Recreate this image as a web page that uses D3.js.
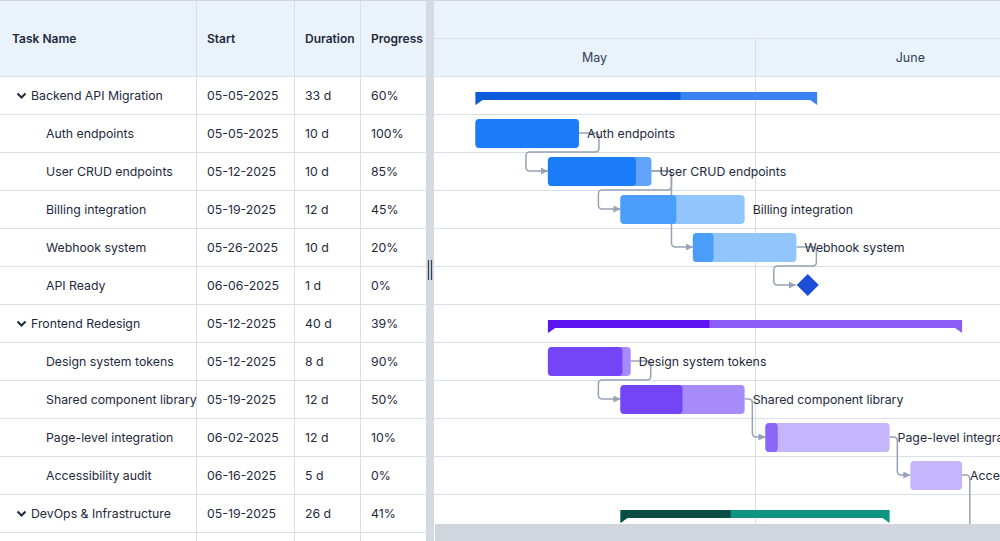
<!DOCTYPE html>
<html lang="en">
<head>
<meta charset="UTF-8">
<title>Project Gantt</title>
<script src="https://d3js.org/d3.v7.min.js"></script>
<style>
  body { margin: 0; background: #fff; font-family: Inter, 'Noto Sans', sans-serif; }
  svg { display: block; }
  .cell { font-size: 12.3px; fill: #1e293b; }
  .head { font-size: 12px; font-weight: 600; fill: #1e293b; }
  .month { font-size: 12.5px; fill: #334155; }
  .bar-label { font-size: 12.3px; fill: #1e293b; }
</style>
</head>
<body>
<svg id="gantt"></svg>
<script>
// ---- data ----
const taskNames = ["Backend API Migration", "Auth endpoints", "User CRUD endpoints", "Billing integration",
  "Webhook system", "API Ready", "Frontend Redesign", "Design system tokens", "Shared component library",
  "Page-level integration", "Accessibility audit", "DevOps & Infrastructure", "Production rollout"];
const taskTypes = ["summary", "task", "task", "task", "task", "milestone", "summary", "task", "task",
  "task", "task", "summary", "task"];
const taskGroups = ["backend", "backend", "backend", "backend", "backend", "backend", "frontend", "frontend",
  "frontend", "frontend", "frontend", "devops", "devops"];
const startDates = ["05-05-2025", "05-05-2025", "05-12-2025", "05-19-2025", "05-26-2025", "06-06-2025",
  "05-12-2025", "05-12-2025", "05-19-2025", "06-02-2025", "06-16-2025", "05-19-2025", "06-23-2025"];
const durations = [33, 10, 10, 12, 10, 1, 40, 8, 12, 12, 5, 26, 4];
const progress = [60, 100, 85, 45, 20, 0, 39, 90, 50, 10, 0, 41, 0];
const dependencies = [[1, 2], [2, 3], [2, 4], [4, 5], [7, 8], [8, 9], [9, 10], [10, 12]];
const months = ["May", "June"];
const monthStarts = ["05-01-2025", "06-01-2025", "07-01-2025"];
const columns = ["Task Name", "Start", "Duration", "Progress"];

// ---- styles ----
const palette = {
  backend:  { sumDark: "#0b5ad9", sumLight: "#3b82f6", progHi: "#1a7cf6", progLo: "#4b9dfb", restHi: "#60a5fa", restLo: "#93c5fd", milestone: "#1d4ed8" },
  frontend: { sumDark: "#5b14f0", sumLight: "#8b5cf6", progHi: "#7345f6", progLo: "#8b66f8", restHi: "#a78bfa", restLo: "#c4b5fd", milestone: "#6d28d9" },
  devops:   { sumDark: "#0a4d45", sumLight: "#0f9484", progHi: "#0f766e", progLo: "#14b8a6", restHi: "#5eead4", restLo: "#99f6e4", milestone: "#0f766e" }
};
const W = 1000, H = 541;
const headH = 76, rowH = 38;
const colX = [0, 196, 294, 360, 426];
const splitX = 426, splitW = 8, chartX = 434;
const gridColor = "#d9dfe7", headBg = "#eaf2fb", connColor = "#97a3b6";

const parse = d3.utcParse("%m-%d-%Y");
const fmt = d3.utcFormat("%m-%d-%Y");
const tasks = taskNames.map((name, i) => {
  const s = parse(startDates[i]);
  return { i, name, type: taskTypes[i], group: taskGroups[i], start: s,
    end: d3.utcDay.offset(s, durations[i]), dur: durations[i], prog: progress[i] };
});

const svg = d3.select("#gantt").attr("width", W).attr("height", H);
const defs = svg.append("defs");

const x = d3.scaleUtc()
  .domain([parse(monthStarts[0]), parse(monthStarts[2])])
  .range([chartX, chartX + 61 * 321 / 31]);
const rowTop = i => headH + i * rowH;
const rowMid = i => headH + i * rowH + rowH / 2;

// ---- right pane ----
defs.append("clipPath").attr("id", "chartClip")
  .append("rect").attr("x", chartX).attr("y", 0).attr("width", W - chartX).attr("height", H);
const right = svg.append("g").attr("clip-path", "url(#chartClip)");

right.append("rect").attr("x", chartX).attr("y", 0).attr("width", W - chartX).attr("height", headH).attr("fill", headBg);
right.append("line").attr("x1", chartX).attr("x2", W).attr("y1", 38.5).attr("y2", 38.5).attr("stroke", gridColor);

// month boundaries and labels
const mStarts = monthStarts.map(parse);
right.selectAll(".mline").data(mStarts.slice(1, -1)).join("line")
  .attr("x1", d => Math.round(x(d)) + 0.5).attr("x2", d => Math.round(x(d)) + 0.5)
  .attr("y1", 38).attr("y2", H).attr("stroke", gridColor);
right.selectAll(".month").data(months).join("text")
  .attr("class", "month")
  .attr("x", (d, i) => (x(mStarts[i]) + x(mStarts[i + 1])) / 2)
  .attr("y", 57).attr("text-anchor", "middle").attr("dominant-baseline", "central")
  .text(d => d);

// row lines (both panes)
const rowLines = d3.range(0, tasks.length + 1).map(i => headH + i * rowH);
svg.insert("g", ":first-child").selectAll("line").data(rowLines).join("line")
  .attr("x1", 0).attr("x2", W).attr("y1", d => d + 0.5).attr("y2", d => d + 0.5)
  .attr("stroke", gridColor);

// connectors
defs.append("marker").attr("id", "arrow").attr("viewBox", "0 0 8 8")
  .attr("refX", 8).attr("refY", 4).attr("markerWidth", 7).attr("markerHeight", 7)
  .attr("markerUnits", "userSpaceOnUse").attr("orient", "auto")
  .append("path").attr("d", "M0,0L8,4L0,8Z").attr("fill", connColor);

function roundedPath(pts, r) {
  let d = `M${pts[0][0]},${pts[0][1]}`;
  for (let k = 1; k < pts.length - 1; k++) {
    const [x0, y0] = pts[k - 1], [x1, y1] = pts[k], [x2, y2] = pts[k + 1];
    const d1 = Math.hypot(x1 - x0, y1 - y0), d2 = Math.hypot(x2 - x1, y2 - y1);
    const rr = Math.min(r, d1 / 2, d2 / 2);
    const ax = x1 - (x1 - x0) / d1 * rr, ay = y1 - (y1 - y0) / d1 * rr;
    const bx = x1 + (x2 - x1) / d2 * rr, by = y1 + (y2 - y1) / d2 * rr;
    d += `L${ax},${ay}Q${x1},${y1} ${bx},${by}`;
  }
  const last = pts[pts.length - 1];
  return d + `L${last[0]},${last[1]}`;
}

const barEnd = t => t.type === "milestone" ? x(t.start) + 11 : x(t.end);
const barStart = t => t.type === "milestone" ? x(t.start) - 11 : x(t.start);

right.append("g").selectAll("path").data(dependencies).join("path")
  .attr("fill", "none").attr("stroke", connColor).attr("stroke-width", 1.5)
  .attr("marker-end", "url(#arrow)")
  .attr("d", ([a, b]) => {
    const s = tasks[a], t = tasks[b];
    const xe = barEnd(s), xs = barStart(t);
    const ys = rowMid(a), yt = rowMid(b);
    let pts;
    if (xs - 13 >= xe + 4) {
      const vx = Math.min(xe + 20, xs - 13);
      pts = [[xe, ys], [vx, ys], [vx, yt], [xs, yt]];
    } else {
      const yb = rowTop(a) + rowH;
      pts = [[xe, ys], [xe + 20, ys], [xe + 20, yb], [xs - 22, yb], [xs - 22, yt], [xs, yt]];
    }
    return roundedPath(pts, 4);
  });

// bars
const bars = right.append("g");
tasks.forEach(t => {
  const pal = palette[t.group];
  const xs = x(t.start), xe = x(t.end), w = xe - xs, top = rowTop(t.i);
  if (t.type === "summary") {
    const y0 = top + 16, y1 = top + 24;
    const shape = `M${xs},${y0}H${xe}V${y1 + 5}L${xe - 7},${y1}H${xs + 7}L${xs},${y1 + 5}Z`;
    bars.append("path").attr("d", shape).attr("fill", pal.sumLight);
    defs.append("clipPath").attr("id", "sum" + t.i)
      .append("rect").attr("x", xs).attr("y", y0).attr("width", w * t.prog / 100).attr("height", 20);
    bars.append("path").attr("d", shape).attr("fill", pal.sumDark).attr("clip-path", `url(#sum${t.i})`);
  } else if (t.type === "milestone") {
    const cx = x(t.start) + 1, cy = rowMid(t.i);
    bars.append("path").attr("d", `M${cx},${cy - 11}L${cx + 11},${cy}L${cx},${cy + 11}L${cx - 11},${cy}Z`)
      .attr("fill", pal.milestone);
  } else {
    const hi = t.prog >= 50;
    bars.append("rect").attr("x", xs).attr("y", top + 5).attr("width", w).attr("height", 29)
      .attr("rx", 4).attr("fill", hi ? pal.restHi : pal.restLo);
    if (t.prog > 0) {
      bars.append("rect").attr("x", xs).attr("y", top + 5).attr("width", w * t.prog / 100).attr("height", 29)
        .attr("rx", 4).attr("fill", hi ? pal.progHi : pal.progLo);
    }
    bars.append("text").attr("class", "bar-label")
      .attr("x", xe + 8).attr("y", rowMid(t.i)).attr("dominant-baseline", "central")
      .text(t.name);
  }
});

// horizontal scrollbar
right.append("rect").attr("x", chartX + 1).attr("y", 524).attr("width", W - chartX).attr("height", H - 524)
  .attr("fill", "#d1d6de");

// ---- left pane (grid) ----
const left = svg.append("g");
left.insert("rect", ":first-child").attr("x", 0).attr("y", 0).attr("width", splitX).attr("height", headH).attr("fill", headBg);
left.append("line").attr("x1", 0).attr("x2", splitX).attr("y1", headH + 0.5).attr("y2", headH + 0.5).attr("stroke", gridColor);
left.selectAll(".vline").data(colX.slice(1, -1)).join("line")
  .attr("x1", d => d + 0.5).attr("x2", d => d + 0.5).attr("y1", 0).attr("y2", H).attr("stroke", gridColor);
left.selectAll(".head").data(columns).join("text")
  .attr("class", "head").attr("x", (d, i) => colX[i] + (i === 0 ? 12 : 11))
  .attr("y", 38).attr("dominant-baseline", "central").text(d => d);

tasks.forEach(t => {
  const y = rowMid(t.i);
  const isSum = t.type === "summary";
  if (isSum) {
    left.append("path").attr("d", `M17.5,${y - 1.5}L21.5,${y + 2.5}L25.5,${y - 1.5}`)
      .attr("fill", "none").attr("stroke", "#1e293b").attr("stroke-width", 2);
  }
  const vals = [t.name, fmt(t.start), t.dur + " d", t.prog + "%"];
  vals.forEach((v, c) => {
    left.append("text").attr("class", "cell")
      .attr("x", c === 0 ? (isSum ? 31 : 46) : colX[c] + 11)
      .attr("y", y).attr("dominant-baseline", "central").text(v);
  });
});

// splitter
svg.append("rect").attr("x", splitX).attr("y", 0).attr("width", splitW).attr("height", H).attr("fill", "#d5dae2");
svg.selectAll(".grip").data([428.5, 431.5]).join("line")
  .attr("x1", d => d).attr("x2", d => d).attr("y1", 260).attr("y2", 280)
  .attr("stroke", "#334155").attr("stroke-width", 1.2);

// top border
svg.append("line").attr("x1", 0).attr("x2", W).attr("y1", 0.5).attr("y2", 0.5).attr("stroke", "#d1d5db");
</script>
</body>
</html>
